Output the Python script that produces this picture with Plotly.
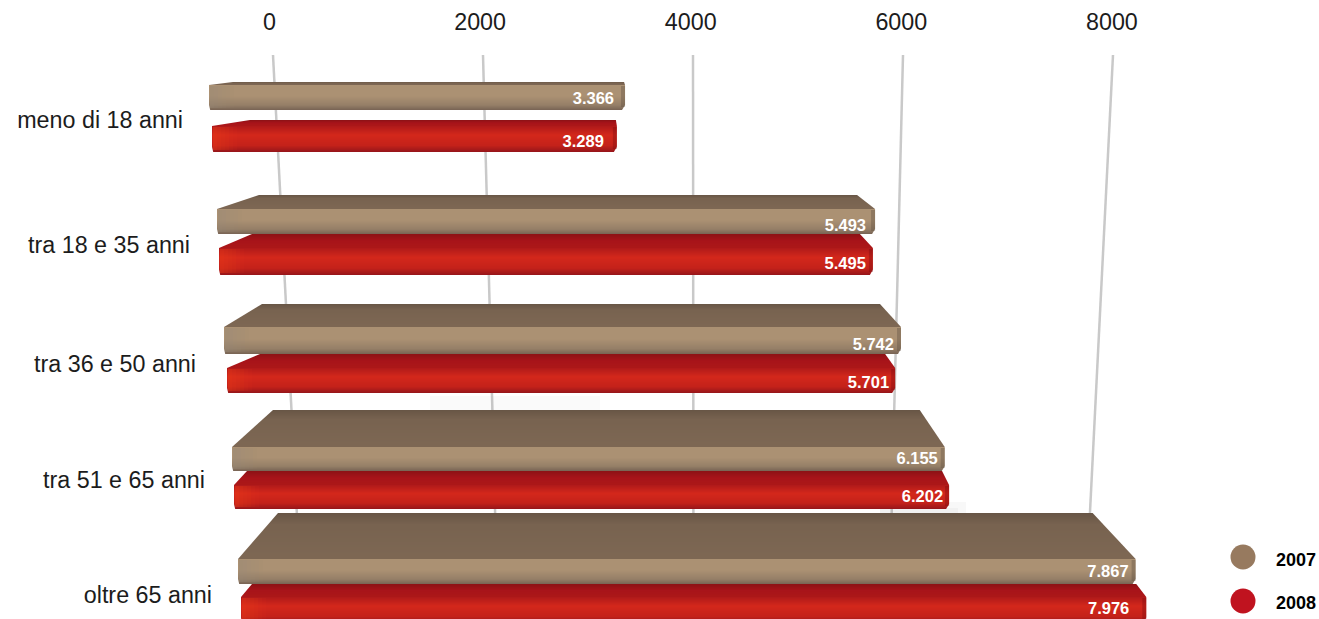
import plotly.graph_objects as go

# Data
AGE_GROUPS = ["meno di 18 anni", "tra 18 e 35 anni", "tra 36 e 50 anni", "tra 51 e 65 anni", "oltre 65 anni"]
YEARS = ["2007", "2008"]
VALUES_2007 = [3366, 5493, 5742, 6155, 7867]
VALUES_2008 = [3289, 5495, 5701, 6202, 7976]
AXIS_TICKS = [0, 2000, 4000, 6000, 8000]

# Perspective layout of the ten slabs, top to bottom (screen pixels)
LEFT = [209, 212, 217, 219, 224, 227, 232, 234, 238, 241]
UNIT = [0.1236, 0.1231, 0.1198, 0.1190, 0.1179, 0.1172, 0.1158, 0.1153, 0.1141, 0.1135]
BACK_Y = [82, 120, 195, 234, 304, 354, 410, 471, 513, 584]
FRONT_Y = [85, 126, 209, 248, 327, 368, 447, 485, 559, 597]
BOTTOM_Y = [110, 152, 234, 275, 354, 393, 471, 509, 584, 623]
INSET_L = [24, 38, 42, 33, 38, 33, 41, 13, 40, 11]
INSET_R = [1, 1, 18, 13, 21, 10, 25, 7, 43, 10]
LABEL_PAD = [11, 13, 9, 7, 7, 6, 7, 6, 7, 17]
LABEL_Y = [100, 143, 227, 265, 346, 384, 460, 498, 573, 610]

W, H, TOP = 1319, 619, 36
ZERO_PX, PX_PER_UNIT = 269.5, 0.1053

FRONT_STOPS = {
    "2007": [(0.0, (172, 146, 116)), (0.45, (171, 145, 115)), (0.8, (150, 128, 104)), (1.0, (120, 100, 84))],
    "2008": [(0.0, (176, 26, 26)), (0.35, (212, 40, 28)), (0.75, (196, 34, 26)), (1.0, (150, 22, 26))],
}
TOP_STOPS = {
    "2007": [(0.0, (104, 86, 70)), (0.25, (120, 99, 80)), (1.0, (126, 104, 84))],
    "2008": [(0.0, (140, 18, 22)), (0.5, (168, 20, 26)), (1.0, (172, 24, 24))],
}
LEGEND_COLORS = {"2007": "#977A5F", "2008": "#C0131F"}
GRID_COLOR = "#C9C9C9"


def vx(px):
    """Screen pixel to position on the value axis."""
    return (px - ZERO_PX) / PX_PER_UNIT


def shade(stops, t):
    for (t0, c0), (t1, c1) in zip(stops, stops[1:]):
        if t <= t1:
            f = (t - t0) / (t1 - t0)
            return "rgb(%d,%d,%d)" % tuple(a + (b - a) * f for a, b in zip(c0, c1))
    return "rgb(%d,%d,%d)" % stops[-1][1]


def quad(xs, ys, color):
    return go.Scatter(
        x=[vx(p) for p in xs] + [vx(xs[0])], y=ys + [ys[0]], mode="lines", fill="toself",
        fillcolor=color, line=dict(width=0), hoverinfo="skip", showlegend=False,
    )


fig = go.Figure()

# Back-wall grid lines converge toward the centre as they come forward
for v in AXIS_TICKS:
    fig.add_trace(go.Scatter(
        x=[vx(273 + v * 0.105), vx(297 + v * 0.0991)], y=[55, 516], mode="lines",
        line=dict(color=GRID_COLOR, width=2.5), hoverinfo="skip", showlegend=False,
    ))

# Soft shadow falling past the end of the long slabs
for x0, x1, y1, alpha in [(880, 958, 522, 0.05), (880, 966, 516, 0.05), (430, 600, 410, 0.04)]:
    fig.add_trace(quad([x0, x1, x1, x0], [y1 - 14, y1 - 14, y1, y1], "rgba(120,120,120,%.2f)" % alpha))

# Slabs: top face, then front face, each built from one-pixel shaded rows
series = [("2007" if k % 2 == 0 else "2008",
           (VALUES_2007 if k % 2 == 0 else VALUES_2008)[k // 2]) for k in range(10)]
for k, (year, value) in enumerate(series):
    xl, xr = LEFT[k], LEFT[k] + value * UNIT[k]
    yb, yf, yd = BACK_Y[k], FRONT_Y[k], BOTTOM_Y[k]

    for y in range(yb, yf):
        t0, t1 = (y - yb) / (yf - yb), (y + 1 - yb) / (yf - yb)
        fig.add_trace(quad(
            [xl + INSET_L[k] * (1 - t0), xr - INSET_R[k] * (1 - t0),
             xr - INSET_R[k] * (1 - t1), xl + INSET_L[k] * (1 - t1)],
            [y, y, y + 1, y + 1], shade(TOP_STOPS[year], (t0 + t1) / 2)))

    for y in range(yf, yd):
        t0, t1 = (y - yf) / (yd - yf), (y + 1 - yf) / (yd - yf)
        # bottom corners are slightly rounded
        c0 = 3 * max(0, t0 - 0.8) / 0.2
        c1 = 3 * max(0, t1 - 0.8) / 0.2
        fig.add_trace(quad(
            [xl + c0 * 0.4, xr - c0, xr - c1, xl + c1 * 0.4], [y, y, y + 1, y + 1],
            shade(FRONT_STOPS[year], (t0 + t1) / 2)))

    # Lit left end fading out along the front face, darker right end
    tint_l = "rgba(235,60,25,%.2f)" if year == "2008" else "rgba(150,135,120,%.2f)"
    tint_r = "rgba(120,10,15,0.35)" if year == "2008" else "rgba(90,75,60,0.35)"
    for step in range(6):
        fig.add_trace(quad([xl + 1 + step * 4, xl + 5 + step * 4, xl + 5 + step * 4, xl + 1 + step * 4],
                           [yf + 1, yf + 1, yd - 2, yd - 2], tint_l % (0.42 * (1 - step / 6))))
    fig.add_trace(quad([xr - 4, xr, xr, xr - 4], [yf + 1, yf + 1, yd - 3, yd - 3], tint_r))

# Value labels at the end of each slab
fig.add_trace(go.Scatter(
    x=[vx(LEFT[k] + series[k][1] * UNIT[k] - LABEL_PAD[k]) for k in range(10)], y=LABEL_Y,
    mode="text", text=[f"{s[1]:,}".replace(",", ".") for s in series], textposition="middle left",
    textfont=dict(family="Liberation Sans", size=16.5, color="white", weight="bold"),
    hoverinfo="skip", showlegend=False,
))

# Age-group labels
fig.add_trace(go.Scatter(
    x=[vx(p) for p in [183, 190, 196, 205, 212]], y=[122, 247, 366, 482, 597],
    mode="text", text=AGE_GROUPS, textposition="middle left",
    textfont=dict(family="Liberation Sans", size=23.3, color="#1c1c1c"),
    hoverinfo="skip", showlegend=False,
))

# Year key
fig.add_trace(go.Scatter(
    x=[vx(1243)] * 2, y=[557, 601], mode="markers",
    marker=dict(size=25, color=[LEGEND_COLORS[y] for y in YEARS], line=dict(width=0)),
    hoverinfo="skip", showlegend=False,
))
fig.add_trace(go.Scatter(
    x=[vx(1276)] * 2, y=[561, 604], mode="text", text=YEARS, textposition="middle right",
    textfont=dict(family="Liberation Sans", size=18, color="black", weight="bold"),
    hoverinfo="skip", showlegend=False,
))

fig.update_layout(
    width=W, height=H, margin=dict(l=0, r=0, t=TOP, b=0),
    paper_bgcolor="white", plot_bgcolor="white", showlegend=False,
    xaxis=dict(
        side="top", range=[vx(0), vx(W)], tickmode="array", tickvals=AXIS_TICKS,
        ticktext=[str(v) for v in AXIS_TICKS], showgrid=False, zeroline=False, showline=False,
        ticks="", tickfont=dict(family="Liberation Sans", size=23.3, color="#1c1c1c"),
    ),
    yaxis=dict(range=[H, TOP], visible=False, showgrid=False, zeroline=False),
)

fig.write_html("out.html", config=dict(displayModeBar=False))
